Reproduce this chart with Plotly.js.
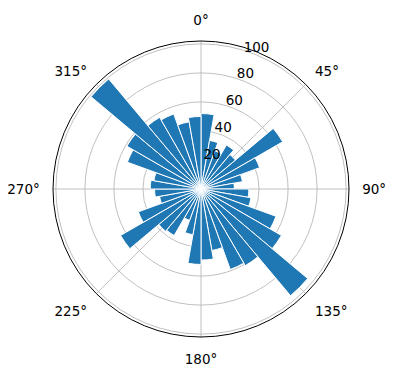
<!DOCTYPE html>
<html>
<head>
<meta charset="utf-8">
<script src="https://cdn.plot.ly/plotly-3.0.1.min.js"></script>
<style>html,body{margin:0;padding:0;background:#fff;}#chart{width:396px;height:380px;}</style>
</head>
<body>
<div id="chart"></div>
<script>
// bin centres (degrees, clockwise from north) and bar heights
var thetaCenters = [5,15,25,35,45,55,65,75,85,95,105,115,125,135,145,155,165,175,
                    185,195,205,215,225,235,245,255,265,275,285,295,305,315,325,335,345,355];
var counts = [52,34,28,35,31,65,43,29,23,33,35,55,64,96,61,59,43,49,
              52,32,23,37,38,64,46,29,32,35,33,54,59,99,57,55,47,50];
var binWidth = [10];
var angTickVals = [0,45,90,135,180,225,270,315];
var angTickText = ['0°','45°','90°','135°','180°','225°','270°','315°'];
var radTickVals = [20,40,60,80,100];
var radTickText = ['20','40','60','80','100'];

var R_MAX = 102, RAD_LABEL_ANGLE = 22.5;
var FONT = {family: 'DejaVu Sans', size: 13.5, color: '#000'};

var bars = {
  type: 'barpolar',
  r: counts,
  theta: thetaCenters,
  width: thetaCenters.map(function(){return binWidth[0];}),
  marker: {color: '#1f77b4', line: {color: '#ffffff', width: 1}},
  hoverinfo: 'none'
};

var radLabels = {
  type: 'scatterpolar', mode: 'text',
  r: radTickVals,
  theta: radTickVals.map(function(){return RAD_LABEL_ANGLE;}),
  text: radTickText, textposition: 'top center',
  textfont: FONT, hoverinfo: 'none', cliponaxis: false
};

var layout = {
  width: 396, height: 380,
  margin: {l: 53, r: 47, t: 41, b: 43},
  paper_bgcolor: '#fff',
  showlegend: false,
  font: FONT,
  polar: {
    bgcolor: '#fff',
    bargap: 0,
    angularaxis: {
      rotation: 90, direction: 'clockwise',
      tickmode: 'array', tickvals: angTickVals, ticktext: angTickText,
      ticks: 'outside', ticklen: 10, tickcolor: 'rgba(0,0,0,0)',
      showline: true, linecolor: '#000', linewidth: 1,
      gridcolor: '#b0b0b0', gridwidth: 0.8,
      tickfont: FONT
    },
    radialaxis: {
      range: [0, R_MAX], angle: 67.5,
      tickmode: 'array', tickvals: radTickVals,
      ticks: '', showline: false, showticklabels: false,
      gridcolor: '#b0b0b0', gridwidth: 0.8
    }
  }
};

Plotly.newPlot('chart', [bars, radLabels], layout, {staticPlot: true, displayModeBar: false});
</script>
</body>
</html>
